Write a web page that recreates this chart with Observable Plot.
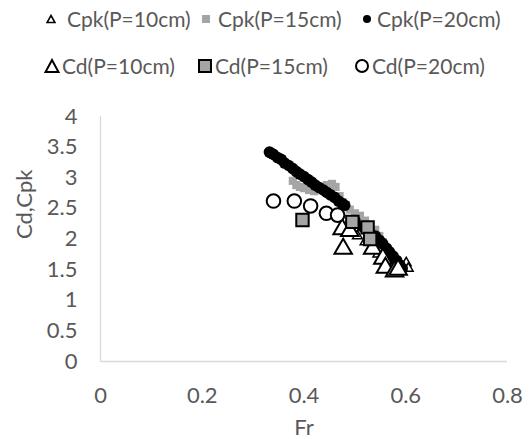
<!DOCTYPE html>
<html><head><meta charset="utf-8">
<script src="https://cdn.jsdelivr.net/npm/d3@7"></script>
<script src="https://cdn.jsdelivr.net/npm/@observablehq/plot@0.6"></script>
<style>
body{margin:0;background:#fff;font-family:Lato,"Open Sans",sans-serif;color:#595959;}
#wrap{position:relative;width:529px;height:439px;overflow:hidden;}
#legend{position:relative;width:529px;height:90px;font-size:21px;}
.item{position:absolute;display:flex;align-items:center;white-space:nowrap;line-height:1;}
</style></head>
<body><div id="wrap"><div id="legend"></div><div id="chart"></div></div>
<script>
// Cpk (P=10cm) - small hollow triangles
const cpk10Fr = [0.475,0.49,0.505,0.52,0.545,0.56,0.575,0.59,0.601,0.605];
const cpk10V  = [2.20,2.12,2.05,1.95,1.75,1.62,1.56,1.50,1.61,1.52];
// Cpk (P=15cm) - small gray squares
const cpk15Fr = [0.378,0.385,0.392,0.400,0.410,0.420,0.430,0.445,0.455,0.462,0.470,0.476,0.482,0.490,0.500,0.510,0.520,0.530,0.540,0.548,0.555,0.560];
const cpk15V  = [2.95,2.88,2.85,2.83,2.80,2.78,2.80,2.88,2.90,2.85,2.70,2.60,2.55,2.48,2.42,2.38,2.30,2.22,2.15,2.05,1.95,1.85];
// Cpk (P=20cm) - black dots
const cpk20Fr = [0.332,0.336,0.340,0.348,0.355,0.362,0.370,0.378,0.385,0.392,0.400,0.408,0.415,0.422,0.430,0.438,0.445,0.452,0.460,0.468,0.475,0.480,0.500,0.515,0.528,0.540,0.548,0.555,0.562,0.568,0.575,0.582,0.588,0.593];
const cpk20V  = [3.42,3.40,3.38,3.33,3.30,3.24,3.20,3.15,3.10,3.06,3.02,2.97,2.93,2.88,2.84,2.80,2.76,2.72,2.68,2.62,2.58,2.55,2.30,2.20,2.12,2.05,1.98,1.92,1.85,1.79,1.72,1.65,1.58,1.52];
// Cd (P=10cm) - big hollow triangles
const cd10Fr = [0.475,0.477,0.490,0.535,0.555,0.560,0.578,0.585];
const cd10V  = [2.16,1.84,2.13,1.84,1.68,1.53,1.47,1.50];
// Cd (P=15cm) - big gray squares
const cd15Fr = [0.397,0.495,0.525,0.530];
const cd15V  = [2.31,2.28,2.19,2.00];
// Cd (P=20cm) - big hollow circles
const cd20Fr = [0.340,0.381,0.413,0.444,0.466];
const cd20V  = [2.62,2.62,2.54,2.42,2.39];

const xTicks = [0,0.2,0.4,0.6,0.8];
const yTicks = [0,0.5,1,1.5,2,2.5,3,3.5,4];
const labels = ["Cpk(P=10cm)","Cpk(P=15cm)","Cpk(P=20cm)","Cd(P=10cm)","Cd(P=15cm)","Cd(P=20cm)"];

const toRows = (xs, ys) => xs.map((x,i)=>({x, y: ys[i]}));
const GRAY = "#a5a5a5";
const font = "Lato, 'Open Sans', sans-serif";
const FS = 22;

const chart = Plot.plot({
  width: 529, height: 349,
  marginTop: 26, marginBottom: 78, marginLeft: 100, marginRight: 22,
  style: {fontFamily: font, fontSize: FS + "px", color: "#595959", background: "#fff"},
  x: {domain: [0, 0.8], ticks: xTicks, label: null},
  y: {domain: [0, 4], ticks: yTicks, label: null},
  marks: [
    Plot.ruleY([0], {stroke: "#d9d9d9", strokeWidth: 1.3}),
    Plot.ruleX([0], {stroke: "#d9d9d9", strokeWidth: 1.3}),
    Plot.axisX({ticks: xTicks, tickSize: 0, tickPadding: 26, tickFormat: d => String(d), fill: "#595959", fontSize: FS, label: null}),
    Plot.axisY({ticks: yTicks, tickSize: 0, tickPadding: 23, tickFormat: d => String(d), fill: "#595959", fontSize: FS, label: null}),
    Plot.dot(toRows(cpk10Fr, cpk10V), {x: "x", y: "y", symbol: "triangle", r: 3.6, fill: "white", stroke: "black", strokeWidth: 1.5}),
    Plot.dot(toRows(cpk15Fr, cpk15V), {x: "x", y: "y", symbol: "square", r: 4.6, fill: GRAY, stroke: "none"}),
    Plot.dot(toRows(cpk20Fr, cpk20V), {x: "x", y: "y", symbol: "circle", r: 5.8, fill: "black", stroke: "none"}),
    Plot.dot(toRows(cd10Fr, cd10V), {x: "x", y: "y", symbol: "triangle", r: 6.5, fill: "white", stroke: "black", strokeWidth: 2}),
    Plot.dot(toRows(cd15Fr, cd15V), {x: "x", y: "y", symbol: "square", r: 7, fill: GRAY, stroke: "black", strokeWidth: 2}),
    Plot.dot(toRows(cd20Fr, cd20V), {x: "x", y: "y", symbol: "circle", r: 6.8, fill: "white", stroke: "black", strokeWidth: 2}),
    Plot.text(["Fr"], {frameAnchor: "bottom", dy: 73, fill: "#595959", fontSize: FS}),
    Plot.text(["Cd,Cpk"], {frameAnchor: "left", dx: -76, rotate: -90, fill: "#595959", fontSize: FS})
  ]
});
document.getElementById("chart").appendChild(chart);

// Legend
const legend = document.getElementById("legend");
const sym = {
  0: '<svg width="10" height="10"><polygon points="5,1.5 9,8.5 1,8.5" fill="white" stroke="black" stroke-width="1.6"/></svg>',
  1: '<svg width="10" height="10"><rect x="1" y="1" width="8" height="8" fill="'+GRAY+'"/></svg>',
  2: '<svg width="10" height="10"><circle cx="5" cy="5" r="4" fill="black"/></svg>',
  3: '<svg width="16" height="16"><polygon points="8,2 14.5,14 1.5,14" fill="white" stroke="black" stroke-width="2"/></svg>',
  4: '<svg width="16" height="16"><rect x="2" y="2" width="12" height="12" fill="'+GRAY+'" stroke="black" stroke-width="2"/></svg>',
  5: '<svg width="16" height="16"><circle cx="8" cy="8" r="6" fill="white" stroke="black" stroke-width="2"/></svg>'
};
// [symbol left, text left, row center]
const pos = [[46,67,19],[201,218,19],[362,377,19],[44,62,66],[197,215,66],[354,372,66]];
labels.forEach((t,i)=>{
  const s = document.createElement("div");
  s.className = "item";
  s.style.left = pos[i][0] + "px";
  s.style.top = (pos[i][2] - (i < 3 ? 5 : 8)) + "px";
  s.innerHTML = sym[i];
  legend.appendChild(s);
  const d = document.createElement("div");
  d.className = "item";
  d.style.left = pos[i][1] + "px";
  d.style.top = (pos[i][2] - 11) + "px";
  d.textContent = t;
  legend.appendChild(d);
});
</script></body></html>
